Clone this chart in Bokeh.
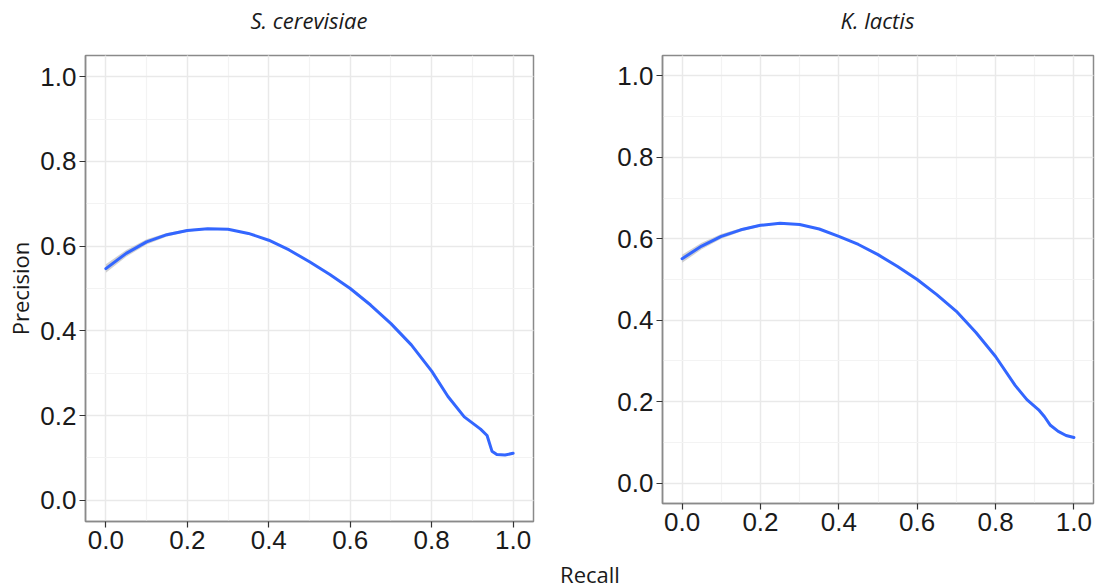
from bokeh.plotting import figure
from bokeh.layouts import row, column
from bokeh.models import (Range1d, SingleIntervalTicker, Div, ColumnDataSource,
                          PrintfTickFormatter)
from bokeh.embed import file_html
from bokeh.resources import INLINE

# ---- data ----
recall_sc = [0, 0.05, 0.1, 0.15, 0.2, 0.25, 0.3, 0.35, 0.4, 0.45, 0.5, 0.55, 0.6, 0.65, 0.7,
             0.75, 0.8, 0.84, 0.88, 0.92, 0.936, 0.948, 0.96, 0.98, 1.0]
precision_sc = [0.547, 0.583, 0.610, 0.627, 0.637, 0.641, 0.640, 0.630, 0.614, 0.591, 0.563,
                0.533, 0.500, 0.461, 0.417, 0.367, 0.305, 0.245, 0.197, 0.168, 0.153, 0.116,
                0.108, 0.107, 0.111]
band_sc = [0.010, 0.008, 0.006, 0.004, 0.003, 0.002, 0.0015, 0.001, 0.001, 0.001, 0.001, 0.001,
           0.001, 0.001, 0.001, 0.001, 0.001, 0.001, 0.001, 0.001, 0.001, 0.001, 0.001, 0.001, 0.001]

recall_kl = [0, 0.05, 0.1, 0.15, 0.2, 0.25, 0.3, 0.35, 0.4, 0.45, 0.5, 0.55, 0.6, 0.65, 0.7,
             0.75, 0.8, 0.85, 0.88, 0.91, 0.925, 0.94, 0.96, 0.98, 1.0]
precision_kl = [0.551, 0.582, 0.606, 0.622, 0.633, 0.638, 0.635, 0.624, 0.606, 0.586, 0.561,
                0.532, 0.500, 0.463, 0.422, 0.370, 0.311, 0.240, 0.205, 0.180, 0.163, 0.142,
                0.127, 0.117, 0.112]
band_kl = [0.010, 0.008, 0.006, 0.004, 0.003, 0.002, 0.0015, 0.001, 0.001, 0.001, 0.001, 0.001,
           0.001, 0.001, 0.001, 0.001, 0.001, 0.001, 0.001, 0.001, 0.001, 0.001, 0.001, 0.001, 0.001]

titles = ["S. cerevisiae", "K. lactis"]
x_label = "Recall"
y_label = "Precision"

LINE = "#3366FF"
GRID = "#e9e9e9"
MINOR = "#f3f3f3"
AXIS = "#8a8a8a"


def panel(x, y, band, width, height, mbl, mbr, mbt, mbb, ylab):
    p = figure(width=width, height=height, output_backend="svg", toolbar_location=None,
               x_range=Range1d(-0.05, 1.05), y_range=Range1d(-0.05, 1.05),
               min_border_left=mbl, min_border_right=mbr, min_border_top=mbt,
               min_border_bottom=mbb)

    for ax in (p.xaxis, p.yaxis):
        ax.ticker = SingleIntervalTicker(interval=0.2, num_minor_ticks=2)
        ax.formatter = PrintfTickFormatter(format="%.1f")
        ax.major_label_text_font = "Liberation Sans"
        ax.major_label_text_font_size = "26px"
        ax.major_label_text_color = "#1a1a1a"
        ax.major_tick_in = 0
        ax.major_tick_out = 6
        ax.major_tick_line_color = "#333333"
        ax.major_tick_line_width = 1.2
        ax.minor_tick_line_color = None
        ax.axis_line_color = AXIS
        ax.axis_line_width = 1.5
        ax.major_label_standoff = 3
    if ylab:
        p.yaxis.axis_label = ylab
        p.yaxis.axis_label_text_font = "Open Sans"
        p.yaxis.axis_label_text_font_style = "normal"
        p.yaxis.axis_label_text_font_size = "22px"
        p.yaxis.axis_label_text_color = "#1a1a1a"
        p.yaxis.axis_label_standoff = 2

    for g in (p.xgrid, p.ygrid):
        g.grid_line_color = GRID
        g.grid_line_width = 1.4
        g.minor_grid_line_color = MINOR
        g.minor_grid_line_width = 1.2

    p.outline_line_color = AXIS
    p.outline_line_width = 1.5
    p.background_fill_color = "white"
    p.border_fill_color = "white"

    lower = [a - b for a, b in zip(y, band)]
    upper = [a + b for a, b in zip(y, band)]
    src = ColumnDataSource(dict(x=x, y=y, lo=lower, hi=upper))
    p.varea(x="x", y1="lo", y2="hi", source=src, fill_color="#c4c4c4", fill_alpha=0.8)
    p.line(x="x", y="y", source=src, line_color=LINE, line_width=3,
           line_join="round", line_cap="round")
    return p


def text_div(txt, width, height, margin, italic):
    return Div(text=txt, width=width, height=height, margin=margin,
               styles={"text-align": "center", "font-family": "Open Sans",
                       "font-size": "22px", "font-style": "italic" if italic else "normal",
                       "line-height": f"{height}px", "color": "#1a1a1a",
                       "width": f"{width}px", "white-space": "nowrap"})


t1 = text_div(titles[0], 448, 40, (0, 29, 0, 85), True)
t2 = text_div(titles[1], 431, 40, (0, 3, 0, 100), True)

p1 = panel(recall_sc, precision_sc, band_sc, 562, 521, 85, 29, 15, 40, y_label)
p2 = panel(recall_kl, precision_kl, band_kl, 534, 503, 100, 3, 15, 40, None)

lab = text_div(x_label, 1012, 27, (0, 0, 0, 84), False)

layout = column(row(t1, t2, spacing=0), row(p1, p2, spacing=0), lab, spacing=0)
open("out.html", "w").write(file_html(layout, INLINE))
